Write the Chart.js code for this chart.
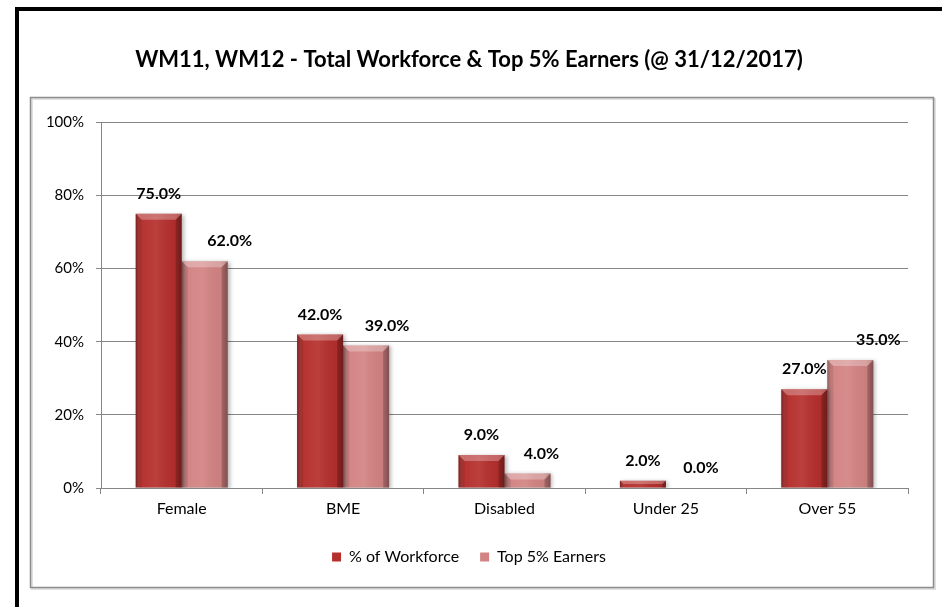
<!DOCTYPE html>
<html>
<head>
<meta charset="utf-8">
<script src="https://cdn.jsdelivr.net/npm/chart.js@4.4.1/dist/chart.umd.min.js"></script>
<style>
  html, body { margin: 0; padding: 0; background: #fff; }
  #wrap { width: 942px; height: 607px; }
</style>
</head>
<body>
<div id="wrap"><canvas id="chart" width="942" height="607"></canvas></div>
<script>
// workforce profile, values in percent
const categories = ['Female', 'BME', 'Disabled', 'Under 25', 'Over 55'];
const workforcePct = [75, 42, 9, 2, 27];
const topEarnersPct = [62, 39, 4, 0, 35];
const seriesNames = ['% of Workforce', 'Top 5% Earners'];
const yTickValues = [0, 20, 40, 60, 80, 100];

const FONT = "Lato, 'Liberation Sans', sans-serif";
const RED = '#B52F2D';
const PINK = '#D38383';

// frame round the whole chart: black outer edge, grey inner box
const framePlugin = {
  id: 'frame',
  beforeDraw(chart) {
    const ctx = chart.ctx;
    ctx.save();
    ctx.fillStyle = '#fff';
    ctx.fillRect(0, 0, chart.width, chart.height);
    ctx.strokeStyle = '#000';
    ctx.lineWidth = 4;
    ctx.beginPath();
    ctx.moveTo(17, chart.height);
    ctx.lineTo(17, 9);
    ctx.lineTo(chart.width, 9);
    ctx.stroke();
    ctx.strokeStyle = 'rgba(0,0,0,0.12)';
    ctx.lineWidth = 2;
    ctx.strokeRect(32, 99, 903, 490);
    ctx.strokeStyle = '#8c8c8c';
    ctx.lineWidth = 1.5;
    ctx.strokeRect(30.5, 97.5, 903, 490);
    ctx.restore();
  }
};

// bevelled look on the bars, plus a soft drop shadow
const bevelPlugin = {
  id: 'bevel',
  beforeDatasetsDraw(chart) {
    const ctx = chart.ctx;
    ctx.save();
    ctx.shadowColor = 'rgba(0,0,0,0.28)';
    ctx.shadowBlur = 4;
    ctx.shadowOffsetX = 2;
    ctx.shadowOffsetY = 1;
  },
  afterDatasetsDraw(chart) {
    const ctx = chart.ctx;
    ctx.restore();
    ctx.save();
    chart.data.datasets.forEach((ds, di) => {
      chart.getDatasetMeta(di).data.forEach(el => {
        const L = el.x - el.width / 2, R = el.x + el.width / 2;
        const T = el.y, B = el.base;
        const h = B - T;
        if (h < 1) return;
        const b = Math.min(6, h / 2);
        const g = ctx.createLinearGradient(L, 0, R, 0);
        g.addColorStop(0, 'rgba(0,0,0,0.25)');
        g.addColorStop(0.12, 'rgba(255,255,255,0.02)');
        g.addColorStop(0.45, 'rgba(255,255,255,0.08)');
        g.addColorStop(0.85, 'rgba(0,0,0,0.04)');
        g.addColorStop(1, 'rgba(0,0,0,0.28)');
        ctx.fillStyle = g;
        ctx.fillRect(L, T, R - L, h);
        // top cap
        ctx.fillStyle = 'rgba(255,255,255,0.28)';
        ctx.beginPath();
        ctx.moveTo(L, T); ctx.lineTo(R, T);
        ctx.lineTo(R - b, T + b); ctx.lineTo(L + b, T + b);
        ctx.closePath(); ctx.fill();
        // side bevels
        ctx.fillStyle = 'rgba(0,0,0,0.10)';
        ctx.beginPath();
        ctx.moveTo(L, T); ctx.lineTo(L + b, T + b);
        ctx.lineTo(L + b, B); ctx.lineTo(L, B);
        ctx.closePath(); ctx.fill();
        ctx.fillStyle = 'rgba(0,0,0,0.16)';
        ctx.beginPath();
        ctx.moveTo(R, T); ctx.lineTo(R - b, T + b);
        ctx.lineTo(R - b, B); ctx.lineTo(R, B);
        ctx.closePath(); ctx.fill();
      });
    });
    ctx.restore();
  }
};

// value labels above each bar; second series labels sit a little to the right
const labelShift = [[0, 0, 0, 0, 0], [25, 21, 14, 12, 28]];
const valueLabelPlugin = {
  id: 'valueLabels',
  afterDatasetsDraw(chart) {
    const ctx = chart.ctx;
    ctx.save();
    ctx.font = 'bold 16px ' + FONT;
    ctx.fillStyle = '#000';
    ctx.textAlign = 'center';
    ctx.textBaseline = 'middle';
    chart.data.datasets.forEach((ds, di) => {
      chart.getDatasetMeta(di).data.forEach((el, i) => {
        const v = ds.data[i];
        ctx.fillText(v.toFixed(1) + '%', el.x + labelShift[di][i], el.y - 20);
      });
    });
    ctx.restore();
  }
};

new Chart(document.getElementById('chart'), {
  type: 'bar',
  data: {
    labels: categories,
    datasets: [
      { label: seriesNames[0], data: workforcePct, backgroundColor: RED },
      { label: seriesNames[1], data: topEarnersPct, backgroundColor: PINK }
    ]
  },
  options: {
    responsive: false,
    animation: false,
    categoryPercentage: 0.57,
    barPercentage: 1,
    layout: { padding: { left: 30, right: 34, top: 0, bottom: 32 } },
    plugins: {
      title: {
        display: true,
        text: 'WM11, WM12 - Total Workforce & Top 5% Earners (@ 31/12/2017)',
        color: '#000',
        font: { family: FONT, size: 22, weight: 'bold' },
        padding: { top: 47, bottom: 49 }
      },
      legend: {
        position: 'bottom',
        labels: {
          color: '#000',
          font: { family: FONT, size: 16 },
          boxWidth: 9,
          boxHeight: 9,
          padding: 21
        }
      },
      tooltip: { enabled: false }
    },
    scales: {
      x: {
        grid: { display: true, drawOnChartArea: false, drawTicks: true, tickLength: 6, color: '#868686' },
        border: { color: '#868686', width: 1 },
        ticks: { color: '#000', font: { family: FONT, size: 16 }, padding: 5 },
        afterFit(scale) { scale.height = 40; }
      },
      y: {
        min: 0,
        max: 100,
        afterBuildTicks(scale) { scale.ticks = yTickValues.map(v => ({ value: v })); },
        grid: { color: '#868686', tickLength: 5 },
        border: { color: '#868686', width: 1 },
        ticks: {
          color: '#000',
          font: { family: FONT, size: 15 },
          padding: 12,
          callback: v => v + '%'
        },
        afterFit(scale) { scale.width = 71; }
      }
    }
  },
  plugins: [framePlugin, bevelPlugin, valueLabelPlugin]
});
</script>
</body>
</html>
